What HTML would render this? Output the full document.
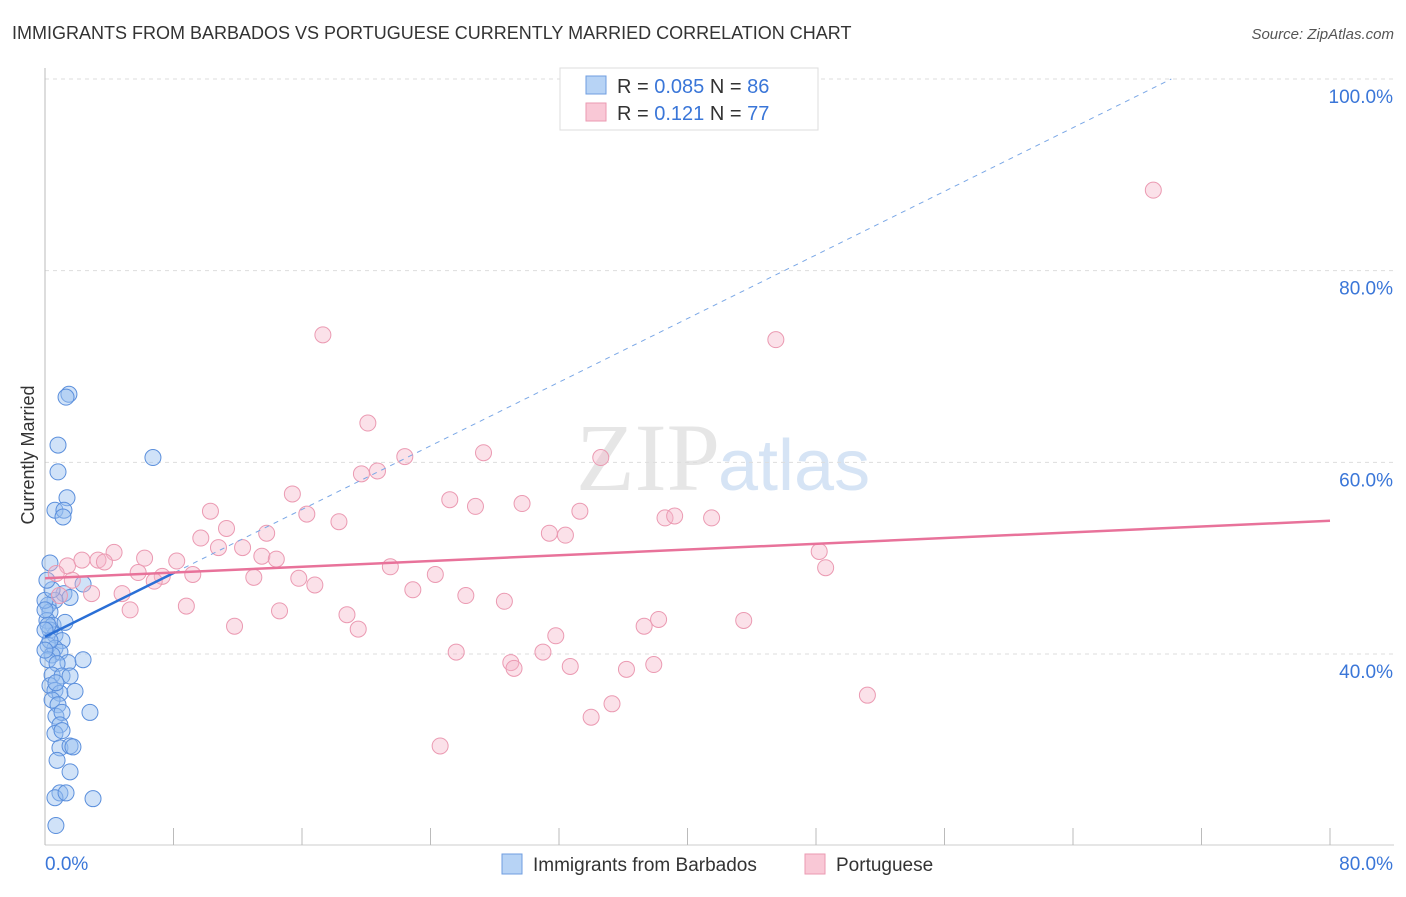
<!DOCTYPE html>
<html><head><meta charset="utf-8"><style>
body{margin:0;background:#fff;font-family:"Liberation Sans",sans-serif}
</style></head><body>
<svg width="1406" height="892" xmlns="http://www.w3.org/2000/svg" id="svg">
<text x="12" y="39" font-size="18" fill="#333">IMMIGRANTS FROM BARBADOS VS PORTUGUESE CURRENTLY MARRIED CORRELATION CHART</text>
<text x="1394" y="39" font-size="15" fill="#555" font-style="italic" text-anchor="end">Source: ZipAtlas.com</text>
<text x="720" y="490" font-size="96" fill="#e6e6e6" font-family="Liberation Serif" text-anchor="end">ZIP</text>
<text x="718" y="490" font-size="72" fill="#d6e4f5">atlas</text>
<text transform="translate(34,455) rotate(-90)" font-size="18" fill="#333" text-anchor="middle">Currently Married</text>
<g id="grid"></g><g id="pts"></g><g id="lines"></g>
<rect x="560" y="68" width="258" height="62" fill="#fff" stroke="#ddd"/>
<rect x="586" y="76" width="20" height="18" fill="#b7d3f5" stroke="#6f9ee0"/>
<rect x="586" y="103" width="20" height="18" fill="#f9c8d6" stroke="#eb9ab2"/>
<text x="617" y="93" font-size="20" fill="#333">R = <tspan fill="#3a76d8">0.085</tspan>   N = <tspan fill="#3a76d8">86</tspan></text>
<text x="617" y="120" font-size="20" fill="#333">R =  <tspan fill="#3a76d8"> 0.121</tspan>   N = <tspan fill="#3a76d8">77</tspan></text>
<rect x="502" y="854" width="20" height="20" fill="#b7d3f5" stroke="#6f9ee0"/>
<text x="533" y="871" font-size="19" fill="#333">Immigrants from Barbados</text>
<rect x="805" y="854" width="20" height="20" fill="#f9c8d6" stroke="#eb9ab2"/>
<text x="836" y="871" font-size="19" fill="#333">Portuguese</text>
</svg>
<script>
const yTicks=[100,80,60,40];
const xTickLabels=["0.0%","80.0%"];
const blueX=[1.49,1.31,0.81,6.72,0.81,1.37,0.62,1.18,1.12,0.31,2.37,1.18,1.56,0.62,0.19,0.31,0.12,0.5,1.25,0.31,0.62,1.06,0.19,0.62,0.93,0.44,0.19,1.43,2.37,0.75,0.44,1.06,1.56,0.31,0.62,0.93,1.87,0.44,0.81,0.68,1.06,2.8,0.93,0.62,1.06,0.93,1.56,1.74,0.75,1.56,0.93,0.62,1.31,2.99,0.68,0,0,0.19,0.31,0,0.44,0.12,0,0.68];
const blueY=[67.1,66.8,61.8,60.5,59.0,56.3,55.0,55.0,54.3,49.5,47.3,46.3,45.9,45.6,45.1,44.4,43.5,43.0,43.3,42.5,42.0,41.4,40.9,40.6,40.2,39.9,39.4,39.1,39.4,39.0,37.8,37.7,37.7,36.7,36.2,35.9,36.1,35.2,34.7,33.5,33.9,33.9,32.6,31.7,32.0,30.2,30.4,30.3,28.9,27.7,25.5,25.0,25.5,24.9,22.1,45.6,44.6,43.0,41.4,42.5,46.7,47.7,40.4,37.0];
const pinkX=[69.0,17.3,45.5,20.1,27.3,22.4,34.6,20.7,19.7,15.4,25.2,26.8,29.7,10.3,16.3,33.3,38.6,39.2,41.5,18.3,11.3,13.8,31.4,32.4,9.7,10.8,12.3,48.2,4.3,6.2,8.2,3.3,3.7,13.5,14.4,1.4,2.3,5.8,7.3,48.6,21.5,9.2,13.0,15.8,24.3,16.8,6.8,22.9,4.8,2.9,26.2,8.8,28.6,5.3,14.6,18.8,38.2,37.3,43.5,11.8,19.5,31.8,25.6,31.0,29.0,29.2,32.7,36.2,37.9,51.2,35.3,34.0,24.6,0.9,0.7,1.7];
const pinkY=[88.4,73.3,72.8,64.1,61.0,60.6,60.5,59.1,58.8,56.7,56.1,55.4,55.7,54.9,54.6,54.9,54.2,54.4,54.2,53.8,53.1,52.6,52.6,52.4,52.1,51.1,51.1,50.7,50.6,50.0,49.7,49.8,49.6,50.2,49.9,49.2,49.8,48.5,48.1,49.0,49.1,48.3,48.0,47.9,48.3,47.2,47.6,46.7,46.3,46.3,46.1,45.0,45.5,44.6,44.5,44.1,43.6,42.9,43.5,42.9,42.6,41.9,40.2,40.2,39.1,38.5,38.7,38.4,38.9,35.7,34.8,33.4,30.4,46.1,48.4,47.7];
const blueTrend=[41.8,0.83];const blueMaxX=8.1;
const pinkTrend=[47.9,0.075];
const X0=45,X1=1330,NS="http://www.w3.org/2000/svg";
const sx=v=>X0+v*(X1-X0)/80, sy=v=>79+(100-v)*9.583;
function mk(t,a,p){const e=document.createElementNS(NS,t);for(const k in a)e.setAttribute(k,a[k]);p.appendChild(e);return e;}
const g=document.getElementById('grid');
for(const t of yTicks){
 const l=mk('line',{x1:45,x2:1394,y1:sy(t),y2:sy(t),stroke:'#ddd','stroke-dasharray':'4,4'},g);
 
 
 const tx=mk('text',{x:1393,y:sy(t)+24,'font-size':19,fill:'#3a76d8','text-anchor':'end'},g);
 tx.textContent=t.toFixed(1)+'%';
 
 
}
const ax=mk('line',{x1:45,x2:45,y1:68,y2:845,stroke:'#bbb'},g);


const bx=mk('line',{x1:45,x2:1394,y1:845,y2:845,stroke:'#ccc'},g);


for(let i=0;i<=10;i++){const x=sx(i*8);
 const t=mk('line',{x1:x,x2:x,y1:828,y2:845,stroke:'#bbb'},g);
 
 }
[[0,'start',45],[80,'end',1393]].forEach((d,i)=>{const t=mk('text',{x:d[2],y:870,'font-size':19,fill:'#3a76d8','text-anchor':d[1]},g);
 t.textContent=xTickLabels[i];
 
 });
const p=document.getElementById('pts');
blueX.forEach((v,i)=>{const c=mk('circle',{cx:sx(v),cy:sy(blueY[i]),r:8,fill:'rgba(150,190,240,0.45)',stroke:'#5b8fdc','stroke-width':1},p);
 
 });
pinkX.forEach((v,i)=>{const c=mk('circle',{cx:sx(v),cy:sy(pinkY[i]),r:8,fill:'rgba(245,180,200,0.4)',stroke:'#eb9ab2','stroke-width':1},p);
 
 });
const L=document.getElementById('lines');
const xEnd=(100-blueTrend[0])/blueTrend[1];
const d1=mk('line',{x1:sx(blueMaxX),y1:sy(blueTrend[0]+blueTrend[1]*blueMaxX),x2:sx(xEnd),y2:sy(100),stroke:'#7aa7e6','stroke-width':1,'stroke-dasharray':'5,5'},L);


const l1=mk('line',{x1:sx(0),y1:sy(blueTrend[0]),x2:sx(blueMaxX),y2:sy(blueTrend[0]+blueTrend[1]*blueMaxX),stroke:'#2a6fd6','stroke-width':2.5},L);


const l2=mk('line',{x1:sx(0),y1:sy(pinkTrend[0]),x2:sx(80),y2:sy(pinkTrend[0]+pinkTrend[1]*80),stroke:'#e8729a','stroke-width':2.5},L);


</script>
</body></html>
